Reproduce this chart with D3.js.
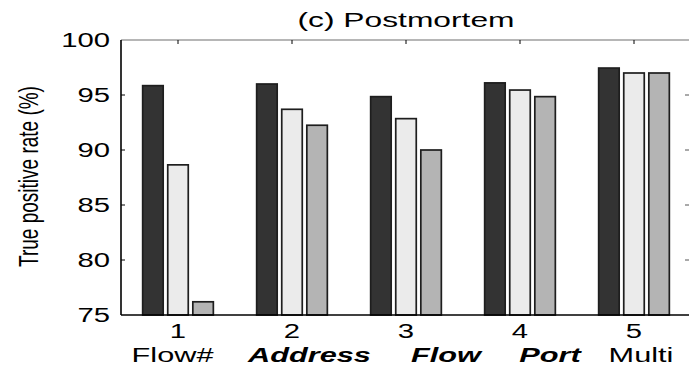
<!DOCTYPE html>
<html>
<head>
<meta charset="utf-8">
<script src="https://cdn.jsdelivr.net/npm/d3@7"></script>
<style>
  html, body { margin: 0; padding: 0; background: #fff; overflow: hidden; }
  svg { display: block; }
  text { font-family: "Liberation Sans", Arial, Helvetica, sans-serif; fill: #000; }
</style>
</head>
<body>
<div id="chart"></div>
<script>
// Detection methods along the x axis
const categories = [1, 2, 3, 4, 5];
const methodNames = ["Flow#", "Address", "Flow", "Port", "Multi"];
const methodBoldItalic = [false, true, true, true, false];

// True positive rate (%) for the three bar series
const seriesA = [95.85, 96.0, 94.85, 96.1, 97.45];
const seriesB = [88.65, 93.7, 92.85, 95.45, 97.0];
const seriesC = [76.2, 92.25, 90.0, 94.85, 97.0];

const yTicks = [75, 80, 85, 90, 95, 100];
const titleText = "(c) Postmortem";
const yLabelText = "True positive rate (%)";

const W = 689, H = 367;
const margin = { left: 121, right: -2, top: 40, bottom: 52 };
const sx = 1.5; // horizontal stretch applied to all lettering

const svg = d3.select("#chart").append("svg")
  .attr("width", W).attr("height", H);

const x = d3.scaleLinear()
  .domain([0.5, 5.5])
  .range([margin.left, W - margin.right]);
const y = d3.scaleLinear()
  .domain([75, 100])
  .range([H - margin.bottom, margin.top]);

const series = [
  { values: seriesA, fill: "#333333", offset: -1 },
  { values: seriesB, fill: "#ebebeb", offset: 0 },
  { values: seriesC, fill: "#b4b4b4", offset: 1 }
];

const unit = x(2) - x(1);
const barStep = unit * 0.22;
const barW = unit * 0.18;

// bars
const bars = svg.append("g");
series.forEach(s => {
  bars.selectAll(null)
    .data(categories.map((c, i) => ({ c, v: s.values[i] })))
    .enter().append("rect")
    .attr("x", d => x(d.c) + s.offset * barStep - barW / 2)
    .attr("y", d => y(d.v))
    .attr("width", barW)
    .attr("height", d => y(75) - y(d.v))
    .attr("fill", s.fill)
    .attr("stroke", "#1e1e1e")
    .attr("stroke-width", 1.7);
});

const x0 = x(0.5), x1 = x(5.5), yTop = y(100), yBot = y(75);

// frame: top edge lighter, left and bottom solid; the right edge lies past the page
svg.append("line").attr("x1", x0).attr("x2", x1).attr("y1", yTop).attr("y2", yTop)
  .attr("stroke", "#6e6e6e").attr("stroke-width", 1.2);
svg.append("line").attr("x1", x0).attr("x2", x0).attr("y1", yTop).attr("y2", yBot)
  .attr("stroke", "#000").attr("stroke-width", 1.6);
svg.append("line").attr("x1", x0).attr("x2", x1).attr("y1", yBot).attr("y2", yBot)
  .attr("stroke", "#000").attr("stroke-width", 1.6);

// inward ticks: top at categories, left/right at values
const tickLen = 4;
svg.append("g").selectAll("line").data(categories).enter().append("line")
  .attr("x1", d => x(d)).attr("x2", d => x(d))
  .attr("y1", yTop).attr("y2", yTop + tickLen)
  .attr("stroke", "#000").attr("stroke-width", 1);
svg.append("g").selectAll("line").data(yTicks.slice(1, -1)).enter().append("line")
  .attr("x1", x0).attr("x2", x0 + tickLen)
  .attr("y1", d => y(d)).attr("y2", d => y(d))
  .attr("stroke", "#000").attr("stroke-width", 1);
svg.append("g").selectAll("line").data(yTicks.slice(1, -1)).enter().append("line")
  .attr("x1", x1 - tickLen - 2).attr("x2", x1)
  .attr("y1", d => y(d)).attr("y2", d => y(d))
  .attr("stroke", "#555").attr("stroke-width", 1);

// y tick labels
svg.append("g").selectAll("text").data(yTicks).enter().append("text")
  .attr("transform", d => `translate(${x0 - 11},${y(d)}) scale(${sx},1)`)
  .attr("text-anchor", "end")
  .attr("dy", "0.36em")
  .style("font-size", "19.5px")
  .text(d => d);

// x tick labels
svg.append("g").selectAll("text").data(categories).enter().append("text")
  .attr("transform", d => `translate(${x(d)},${yBot + 23}) scale(${sx},1)`)
  .attr("text-anchor", "middle")
  .style("font-size", "19.5px")
  .text(d => d);

// method names: a second label row, each word centred at its own spot
const nameShift = [-5.5, 17.5, 40, 30, 7];
svg.append("g").selectAll("text").data(categories).enter().append("text")
  .attr("transform", (d, i) => `translate(${x(d) + nameShift[i]},${yBot + 47}) scale(${sx * 1.05},1)`)
  .attr("text-anchor", "middle")
  .style("font-size", "19.5px")
  .style("font-weight", (d, i) => methodBoldItalic[i] ? "bold" : "normal")
  .style("font-style", (d, i) => methodBoldItalic[i] ? "italic" : "normal")
  .text((d, i) => methodNames[i]);

// title
svg.append("text")
  .attr("transform", `translate(${(x0 + x1) / 2},26.5) scale(1.55,1)`)
  .attr("text-anchor", "middle")
  .style("font-size", "20.5px")
  .text(titleText);

// y axis label
svg.append("text")
  .attr("transform", `translate(38,${(85 + 268) / 2}) scale(${sx},1) rotate(-90)`)
  .attr("text-anchor", "middle")
  .style("font-size", "19px")
  .text(yLabelText);
</script>
</body>
</html>
